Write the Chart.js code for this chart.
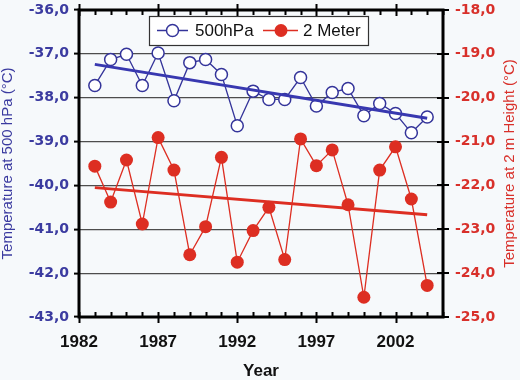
<!DOCTYPE html>
<html>
<head>
<meta charset="utf-8">
<script src="https://cdn.jsdelivr.net/npm/chart.js@4/dist/chart.umd.min.js"></script>
<style>
  html, body { margin: 0; padding: 0; background: #f6f9fb; }
  #wrap { width: 520px; height: 380px; }
</style>
</head>
<body>
<div id="wrap"><canvas id="c" width="520" height="380"></canvas></div>
<script>
// ---- data ----
const years = [1983,1984,1985,1986,1987,1988,1989,1990,1991,1992,1993,1994,1995,1996,1997,1998,1999,2000,2001,2002,2003,2004];
const temp500 = [-37.72,-37.13,-37.01,-37.72,-36.98,-38.07,-37.20,-37.13,-37.47,-38.64,-37.85,-38.04,-38.04,-37.54,-38.19,-37.88,-37.79,-38.41,-38.13,-38.36,-38.80,-38.44];
const temp2m = [-21.56,-22.38,-21.42,-22.88,-20.91,-21.65,-23.58,-22.94,-21.36,-23.75,-23.03,-22.50,-23.69,-20.94,-21.55,-21.19,-22.44,-24.55,-21.65,-21.12,-22.31,-24.28];
const trendYears = [1983, 2004];
const trend500 = [-37.24, -38.47];
const trend2m = [-22.05, -22.67];
const xTickLabels = [1982, 1987, 1992, 1997, 2002];
const seriesNames = ['500hPa', '2 Meter'];

const BLUE = '#34349a';
const BLUE_TXT = '#3b3ba0';
const BLUE_TREND = '#3838b0';
const RED = '#dd2e22';
const RED_TXT = '#d8302a';

const pts = (xs, ys) => xs.map((x, i) => ({x: x, y: ys[i]}));
const fmt = v => v.toFixed(1).replace('.', ',');

const framePlugin = {
  id: 'frame',
  afterDraw(chart) {
    const ctx = chart.ctx, a = chart.chartArea, xs = chart.scales.x, y2 = chart.scales.y2;
    ctx.save();
    ctx.strokeStyle = '#000';
    // year ticks (minor every year, major every 5 years)
    ctx.lineWidth = 2;
    for (let yr = xs.min; yr <= xs.max; yr++) {
      const px = Math.round(xs.getPixelForValue(yr)) + 0.5;
      const major = xTickLabels.includes(yr);
      ctx.beginPath();
      if (major) {
        ctx.moveTo(px, a.bottom - 5); ctx.lineTo(px, a.bottom + 6);
        ctx.moveTo(px, a.top - 6); ctx.lineTo(px, a.top + 6);
      } else {
        ctx.moveTo(px, a.bottom - 5); ctx.lineTo(px, a.bottom);
        ctx.moveTo(px, a.top); ctx.lineTo(px, a.top + 5);
      }
      ctx.stroke();
    }
    // right axis crossing ticks
    y2.ticks.forEach(t => {
      const py = Math.round(y2.getPixelForValue(t.value));
      ctx.beginPath();
      ctx.moveTo(a.right - 6, py); ctx.lineTo(a.right + 6, py);
      ctx.stroke();
    });
    // frame
    ctx.lineWidth = 3;
    ctx.strokeRect(a.left, a.top, a.right - a.left, a.bottom - a.top);
    // right axis title (reads bottom to top)
    ctx.fillStyle = RED_TXT;
    ctx.font = '15px "Liberation Sans", Arial, sans-serif';
    ctx.textAlign = 'center';
    ctx.textBaseline = 'middle';
    ctx.translate(510, (a.top + a.bottom) / 2);
    ctx.rotate(-Math.PI / 2);
    ctx.fillText('Temperature at 2 m Height (°C)', 0, 0);
    ctx.restore();

    // legend box
    ctx.save();
    const lx = a.left + 70, ly = a.top + 6, lw = 219, lh = 29;
    ctx.fillStyle = '#ffffff';
    ctx.fillRect(lx, ly, lw, lh);
    ctx.strokeStyle = '#333';
    ctx.lineWidth = 1.2;
    ctx.strokeRect(lx + 0.5, ly + 0.5, lw, lh);
    const cy = ly + lh / 2;
    ctx.font = '17px "Liberation Sans", Arial, sans-serif';
    ctx.textBaseline = 'middle';
    ctx.textAlign = 'left';
    // item 1
    ctx.strokeStyle = BLUE; ctx.lineWidth = 1.5;
    ctx.beginPath(); ctx.moveTo(lx + 8, cy); ctx.lineTo(lx + 39, cy); ctx.stroke();
    ctx.beginPath(); ctx.arc(lx + 23.5, cy, 6, 0, Math.PI * 2);
    ctx.fillStyle = '#fff'; ctx.fill(); ctx.stroke();
    ctx.fillStyle = '#111'; ctx.fillText(seriesNames[0], lx + 46, cy + 1);
    // item 2
    ctx.strokeStyle = RED; ctx.lineWidth = 1.5;
    ctx.beginPath(); ctx.moveTo(lx + 114, cy); ctx.lineTo(lx + 149, cy); ctx.stroke();
    ctx.beginPath(); ctx.arc(lx + 132, cy, 6.5, 0, Math.PI * 2);
    ctx.fillStyle = RED; ctx.fill();
    ctx.fillStyle = '#111'; ctx.fillText(seriesNames[1], lx + 154, cy + 1);
    ctx.restore();
  }
};

new Chart(document.getElementById('c'), {
  type: 'line',
  data: {
    datasets: [
      { label: 'trend ' + seriesNames[0], data: pts(trendYears, trend500), yAxisID: 'y',
        borderColor: BLUE_TREND, borderWidth: 3, pointRadius: 0, fill: false },
      { label: 'trend ' + seriesNames[1], data: pts(trendYears, trend2m), yAxisID: 'y2',
        borderColor: RED, borderWidth: 3, pointRadius: 0, fill: false },
      { label: seriesNames[0], data: pts(years, temp500), yAxisID: 'y',
        borderColor: BLUE, borderWidth: 1.3, pointRadius: 6, pointBorderWidth: 1.5,
        pointBackgroundColor: '#ffffff', pointBorderColor: BLUE, fill: false, tension: 0 },
      { label: seriesNames[1], data: pts(years, temp2m), yAxisID: 'y2',
        borderColor: RED, borderWidth: 1.3, pointRadius: 6.5, pointBorderWidth: 0,
        pointBackgroundColor: RED, pointBorderColor: RED, fill: false, tension: 0 }
    ]
  },
  options: {
    responsive: false,
    animation: false,
    layout: { padding: { top: 10, left: 0, right: 0, bottom: 0 } },
    plugins: { legend: { display: false }, tooltip: { enabled: false } },
    scales: {
      x: {
        type: 'linear', min: 1982, max: 2005,
        afterBuildTicks: s => { s.ticks = xTickLabels.map(v => ({value: v})); },
        afterFit: s => { s.height = 63; s.paddingLeft = 0; s.paddingRight = 0; },
        grid: { display: false, drawTicks: false },
        border: { display: false },
        ticks: { padding: 15, color: '#111', maxRotation: 0, autoSkip: false,
          font: { family: '"Liberation Sans", Arial, sans-serif', size: 17, weight: 'bold' },
          callback: v => String(v) },
        title: { display: true, text: 'Year', color: '#111', padding: { top: 0, bottom: 0 },
          font: { family: '"Liberation Sans", Arial, sans-serif', size: 17, weight: 'bold', lineHeight: 1 } }
      },
      y: {
        position: 'left', min: -43, max: -36,
        afterFit: s => { s.width = 79; s.paddingTop = 0; s.paddingBottom = 0; },
        grid: { display: true, color: '#4d4d4d', lineWidth: 1.2, drawTicks: true, tickLength: 5, tickColor: '#000', tickWidth: 2 },
        border: { display: false },
        ticks: { stepSize: 1, padding: 5, color: BLUE_TXT, callback: v => fmt(v),
          font: { family: '"DejaVu Sans", sans-serif', size: 14, weight: 'bold' } },
        title: { display: true, text: 'Temperature at 500 hPa (°C)', color: BLUE_TXT, padding: { top: 0, bottom: 0 },
          font: { family: '"Liberation Sans", Arial, sans-serif', size: 15, lineHeight: 1 } }
      },
      y2: {
        position: 'right', min: -25, max: -18,
        afterFit: s => { s.width = 77; s.paddingTop = 0; s.paddingBottom = 0; },
        grid: { display: false, drawTicks: false, drawOnChartArea: false },
        border: { display: false },
        ticks: { stepSize: 1, padding: 12, color: RED_TXT, callback: v => fmt(v),
          font: { family: '"DejaVu Sans", sans-serif', size: 14, weight: 'bold' } }
      }
    }
  },
  plugins: [framePlugin]
});
</script>
</body>
</html>
